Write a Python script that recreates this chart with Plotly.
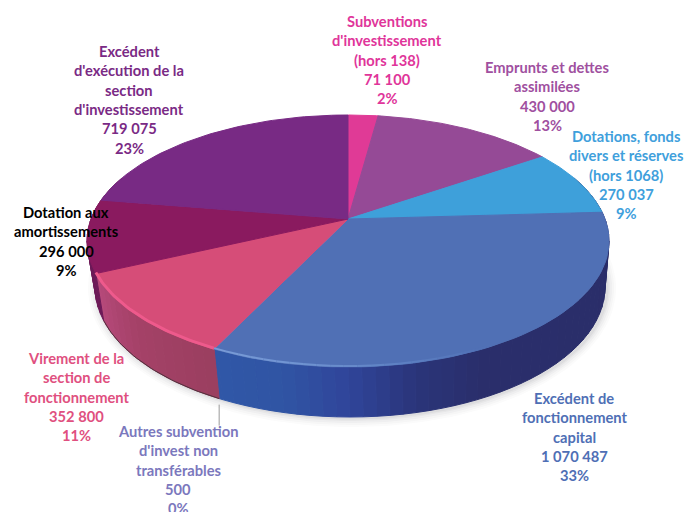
import numpy as np
import plotly.graph_objects as go

# ---- data ----
categories = ["Subventions d'investissement (hors 138)", "Emprunts et dettes assimilées",
              "Dotations, fonds divers et réserves (hors 1068)", "Excédent de fonctionnement capital",
              "Autres subvention d'invest non transférables", "Virement de la section de fonctionnement",
              "Dotation aux amortissements", "Excédent d'exécution de la section d'investissement"]
values = [71100, 430000, 270037, 1070487, 500, 352800, 296000, 719075]
percents = ["2%", "13%", "9%", "33%", "0%", "11%", "9%", "23%"]
label_lines = [["Subventions", "d'investissement", "(hors 138)"],
               ["Emprunts et dettes", "assimilées"],
               ["Dotations, fonds", "divers et réserves", "(hors 1068)"],
               ["Excédent de", "fonctionnement", "capital"],
               ["Autres subvention", "d'invest non", "transférables"],
               ["Virement de la", "section de", "fonctionnement"],
               ["Dotation aux", "amortissements"],
               ["Excédent", "d'exécution de la", "section", "d'investissement"]]
face_colors = ["#e03a96", "#954a96", "#3ea0da", "#5070b5", "#7b78bd", "#d64d78", "#8a1a5f", "#782a84"]
label_col = ["#e0359a", "#a0509f", "#3fa0dc", "#4f6fb5", "#7b78bd", "#e0507f", "#000000", "#7a2a85"]
label_cx = [387, 547, 626, 574, 178, 76, 66, 129]
label_y = [21, 67, 136, 398, 431, 358, 212, 51]

# ---- projection of the 3-D disc ----
CX, CY, RX, RY = 348, 241, 261, 126       # top ellipse
BX, BY, BRX, BRY = 350, 287, 255, 130     # bottom ellipse
AX, AY = 348, 219                         # projected centre of the disc
SKEW = 9.7                                # perspective, degrees
PITCH = 19.3


def top_pt(t):
    r = np.radians(t)
    return CX + RX * np.sin(r), CY - RY * np.cos(r)


def bot_pt(t):
    r = np.radians(t)
    return BX + BRX * np.sin(r), BY - BRY * np.cos(r)


phi = np.concatenate([[0], np.cumsum(values) / np.sum(values) * 360])
bounds = phi - SKEW * np.sin(np.radians(phi))

fig = go.Figure()


def poly(x, y, color, name="", line=None):
    fig.add_trace(go.Scatter(x=np.asarray(x), y=np.asarray(y), mode="lines", fill="toself",
                             fillcolor=color, name=name, hoverinfo="skip", showlegend=False,
                             line=dict(color=line or "rgba(0,0,0,0)", width=1 if line else 0)))


def rgb(h):
    return [int(h[i:i + 2], 16) for i in (1, 3, 5)]


def ramp(stops, m):
    xs = [s[0] for s in stops]
    cols = np.array([rgb(s[1]) for s in stops], float)
    c = [int(np.interp(m, xs, cols[:, k])) for k in range(3)]
    return f"rgb({c[0]},{c[1]},{c[2]})"


# soft shadow under the disc
ts = np.linspace(0, 360, 181)
for grow, alpha in [(9, .018), (7, .025), (5, .03), (3, .04), (1.5, .05)]:
    bx, by = bot_pt(ts)
    poly(bx + 2 + grow * np.sin(np.radians(ts)), by + 1 - grow * np.cos(np.radians(ts)),
         f"rgba(40,40,50,{alpha})")

# wall shading: (angle, colour) stops, one list per visible group of slices
wall_blue = [(60, "#2a2d68"), (150, "#2a2f6c"), (165, "#2b357a"), (180, "#30459a"), (195, "#3055a4"),
             (bounds[4], "#3058a8")]
wall_pink = [(bounds[4], "#9b3f60"), (235, "#a54268"), (bounds[6], "#b84a7c")]
wall_plum = [(bounds[6], "#6e1a58"), (300, "#6a1a58")]


def strips(stops):
    a0, a1 = stops[0][0], stops[-1][0]
    edges = np.arange(a0, a1, 3.0).tolist() + [a1]
    for t0, t1 in zip(edges[:-1], edges[1:]):
        col = ramp(stops, (t0 + t1) / 2)
        arc = np.linspace(t0, t1, 5)
        tx, ty = top_pt(arc)
        bx, by = bot_pt(arc[::-1])
        poly(np.r_[tx, bx, tx[0]], np.r_[ty, by, ty[0]], col, line=col)


strips(wall_blue)
strips(wall_pink)
strips(wall_plum)

# dark base outline along the lower left
arc = np.linspace(bounds[4], 255, 40)
bx, by = bot_pt(arc)
fig.add_trace(go.Scatter(x=bx, y=by, mode="lines", line=dict(color="#50303c", width=1),
                         hoverinfo="skip", showlegend=False))

# top faces
for i, name in enumerate(categories):
    arc = np.linspace(bounds[i], bounds[i + 1], 60)
    x, y = top_pt(arc)
    poly(np.r_[AX, x, AX], np.r_[AY, y, AY], face_colors[i], name=name, line=face_colors[i])

# bevel highlights on the rim, fading toward the right
bevel_blue = [(148, "#5070b5"), (170, "#5f82c4"), (190, "#7094d2"), (bounds[4], "#7a9cd8")]
edges = np.linspace(148, bounds[4], 22)
for t0, t1 in zip(edges[:-1], edges[1:]):
    arc = np.linspace(t0, t1, 5)
    x, y = top_pt(arc)
    fig.add_trace(go.Scatter(x=x, y=y - 1, mode="lines", hoverinfo="skip", showlegend=False,
                             line=dict(color=ramp(bevel_blue, (t0 + t1) / 2), width=2)))
arc = np.linspace(bounds[5], bounds[6], 40)
x, y = top_pt(arc)
fig.add_trace(go.Scatter(x=x, y=y - 1, mode="lines", line=dict(color="#ee5a8c", width=3),
                         hoverinfo="skip", showlegend=False))

# leader line of the tiny slice
lx, ly = bot_pt(bounds[4])
fig.add_trace(go.Scatter(x=[lx, lx], y=[ly + 6, ly + 27], mode="lines",
                         line=dict(color="#9a9a9a", width=1), hoverinfo="skip", showlegend=False))

# labels
annotations = []
for i in range(len(categories)):
    vtxt = f"{values[i]:,}".replace(",", " ")
    lines = label_lines[i] + [vtxt, percents[i]]
    for j, ln in enumerate(lines):
        annotations.append(dict(x=label_cx[i], y=label_y[i] + j * PITCH, text=ln, xref="x", yref="y",
                                showarrow=False, xanchor="center", yanchor="middle",
                                font=dict(family="Lato", size=14.7, color=label_col[i], weight="bold")))

fig.update_layout(width=685, height=512, margin=dict(l=0, r=0, t=0, b=0), autosize=False,
                  paper_bgcolor="white", plot_bgcolor="white", annotations=annotations,
                  xaxis=dict(range=[0, 685], visible=False, fixedrange=True),
                  yaxis=dict(range=[512, 0], visible=False, fixedrange=True))
fig.write_html("out.html", config=dict(displayModeBar=False),
               post_script="document.body.style.margin='0';")
